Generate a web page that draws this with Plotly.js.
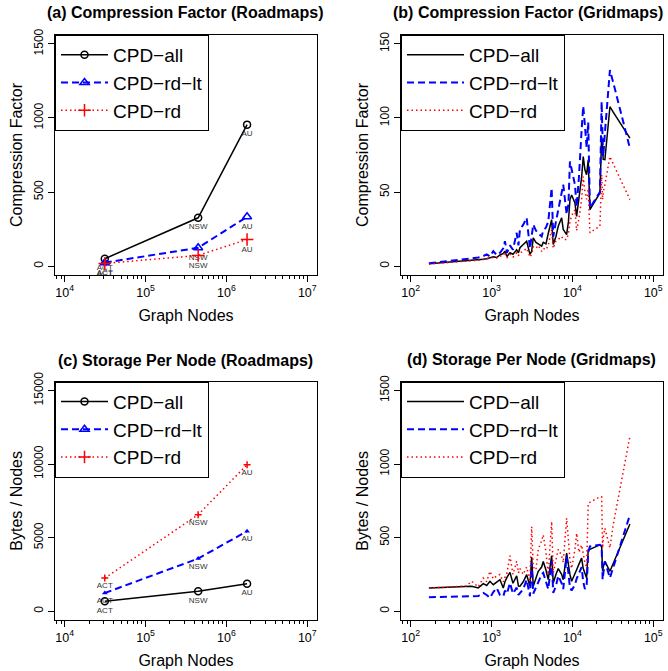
<!DOCTYPE html>
<html><head><meta charset="utf-8">
<script src="https://cdn.plot.ly/plotly-3.0.1.min.js"></script>
<style>html,body{margin:0;padding:0;background:#fff}#chart{width:668px;height:671px}</style>
</head><body><div id="chart"></div>
<script>
// ---------- Roadmaps ----------
const roadNames = ['ACT', 'NSW', 'AU'];
const roadNodes = [31300, 447000, 1800000];
const roadCompAll = [50, 326, 955];
const roadCompRdLt = [23, 124, 333];
const roadCompRd = [18, 72, 180];
const roadStoreAll = [674, 1349, 1866];
const roadStoreRdLt = [1236, 3575, 5440];
const roadStoreRd = [2247, 6562, 9955];

// ---------- Gridmaps ----------
const gridNodes = [168,306,492,568,685,790,870,955,1050,1156,1270,1395,1464,1550,1688,1839,2043,2150,2244,2465,2716,2983,3131,3278,3538,3778,4163,4356,4703,5022,5534,5790,6252,6676,7354,7697,8479,8925,9314,9775,10737,11269,12031,12994,13600,14272,14979,15679,16459,21875,22963,23624,24030,25210,29076,31936,51380];
const gridCompAll = [1.6,2.6,3.4,3.8,4.3,4.6,5.0,5.4,6.3,5.8,7.5,8.5,10.1,6.5,9,8,11,9,12.4,14.6,16.8,7.9,10,19.1,16,15,13.5,16,15,22,31.4,14.6,20,26.9,32.6,24.7,21.3,30,44.9,48,42.6,33.6,45,60,74,65,61.7,71.8,38.1,49.4,87.4,78,72,71.8,107.6,104,86.4];
const gridCompRdLt = [1.9,3.4,5.0,5.4,5.8,6.8,7.9,6.5,10.1,7.5,9,12,16.8,9,14,11,22.5,14,24.7,28,32.6,12,20,28,24,22,20,24,26,30,52.7,20,30,38,48.2,55,35,42,70.6,65,55,40,60,92,108,95,80,97,39.3,50,111,85,74,90,132.3,124,79.6];
const gridCompRd = [1.4,2.4,3.3,3.6,4.0,4.5,4.8,5.2,5.8,5.5,6.8,7,9.5,5.5,8,6,9,7,9,10,12,6,8,13,12,14,10,12,11,14,24.7,12,17,18,20,18,18,22,30,34,38,24,32,45,60.5,50,45,52,22.5,27,61.7,44.9,50,55,74,69,44.9];
const gridStoreAll = [158,163,168,169,158,187,175,203,180,195,214,158,200,230,264,190,240,170,169,200,248,170,368,169,220,271,300,338,280,214,377,192,250,290,250,214,395,300,250,203,250,282,320,361,290,250,226,417,420,451,444,271,300,338,271,324,593];
const gridStoreRdLt = [95,97,100,101,103,124,110,90,130,158,110,100,140,120,192,120,160,110,124,150,214,101,327,120,160,200,250,260,200,150,340,124,170,240,190,150,372,240,160,140,180,220,260,300,200,150,170,400,440,451,440,214,250,338,226,297,654];
const gridStoreRd = [158,163,172,203,165,226,200,271,220,240,250,200,230,260,377,250,340,260,290,250,300,200,575,300,280,420,480,519,400,250,609,260,350,420,380,330,632,450,350,290,420,530,400,450,380,330,300,733,740,778,778,429,500,564,430,587,1189];

const seriesNames = ['CPD\u2212all', 'CPD\u2212rd\u2212lt', 'CPD\u2212rd'];
const FONT = '"Liberation Sans", Arial, Helvetica, sans-serif';
const BLACK = '#000000', BLUE = '#0000FF', RED = '#FF0000';
const LBL = {size: 8, color: '#333333', family: FONT};

const lineAll = {color: BLACK, width: 1.5};
const lineRdLt = {color: BLUE, width: 2, dash: '7px,4px'};
const lineRd = {color: RED, width: 1.5, dash: '1.5px,3px'};
const mkAll = {symbol: 'circle-open', size: 7, color: BLACK, line: {width: 1.5, color: BLACK}};
const mkRdLt = {symbol: 'triangle-up-open', size: 8, color: BLUE, line: {width: 1.5, color: BLUE}};
const mkRd = {symbol: 'cross-thin-open', size: 9, color: RED, line: {width: 1.5, color: RED}};

const traces = [];
// (a)
[[roadCompAll, lineAll, mkAll], [roadCompRdLt, lineRdLt, mkRdLt], [roadCompRd, lineRd, mkRd]].forEach((s, i) => {
  traces.push({x: roadNodes, y: s[0], text: roadNames, name: seriesNames[i], type: 'scatter',
    mode: 'lines+markers+text', textposition: 'bottom center', textfont: LBL,
    line: s[1], marker: s[2], xaxis: 'x', yaxis: 'y', legend: 'legend'});
});
// (b)
[[gridCompAll, lineAll], [gridCompRdLt, lineRdLt], [gridCompRd, lineRd]].forEach((s, i) => {
  traces.push({x: gridNodes, y: s[0], name: seriesNames[i], type: 'scatter', mode: 'lines',
    line: s[1], xaxis: 'x2', yaxis: 'y2', legend: 'legend2'});
});
// (c)
const mkRdLtSmall = {symbol: 'triangle-up', size: 5, color: BLUE};
const mkRdSmall = {symbol: 'cross-thin-open', size: 5, color: RED, line: {width: 1.5, color: RED}};
[[roadStoreAll, lineAll, mkAll], [roadStoreRdLt, lineRdLt, mkRdLtSmall], [roadStoreRd, lineRd, mkRdSmall]].forEach((s, i) => {
  traces.push({x: roadNodes, y: s[0], text: roadNames, name: seriesNames[i], type: 'scatter',
    mode: 'lines+markers+text', textposition: 'bottom center', textfont: LBL,
    line: s[1], marker: s[2], xaxis: 'x3', yaxis: 'y3', showlegend: false});
});
[[lineAll, mkAll], [lineRdLt, mkRdLt], [lineRd, mkRd]].forEach((s, i) => {
  traces.push({x: [null], y: [null], name: seriesNames[i], type: 'scatter', mode: 'lines+markers',
    line: s[0], marker: s[1], xaxis: 'x3', yaxis: 'y3', legend: 'legend3'});
});
// (d)
[[gridStoreAll, lineAll], [gridStoreRdLt, lineRdLt], [gridStoreRd, lineRd]].forEach((s, i) => {
  traces.push({x: gridNodes, y: s[0], name: seriesNames[i], type: 'scatter', mode: 'lines',
    line: s[1], xaxis: 'x4', yaxis: 'y4', legend: 'legend4'});
});

const colA = [55/668, 317/668], colB = [401/668, 663/668];
const row1 = [1 - 275/671, 1 - 35/671], row2 = [1 - 620/671, 1 - 381.7/671];

function xax(domain, range, anchor) {
  return {domain, anchor, type: 'log', range, dtick: 1, exponentformat: 'power',
    tickfont: {size: 10, family: FONT, color: BLACK}, ticks: 'outside', ticklen: 6, tickcolor: BLACK,
    showline: true, mirror: true, linecolor: BLACK, linewidth: 1, showgrid: false, zeroline: false,
    minor: {dtick: 'D1', ticks: 'outside', ticklen: 3, tickcolor: BLACK, showgrid: false},
    title: {text: 'Graph Nodes', font: {size: 16, family: FONT, color: BLACK}, standoff: 11}};
}
function yax(domain, range, dtick, title, anchor) {
  return {domain, anchor, range, dtick, tick0: 0, tickformat: 'd', tickangle: -90,
    tickfont: {size: 12, family: FONT, color: BLACK}, ticks: 'outside', ticklen: 6, tickcolor: BLACK,
    showline: true, mirror: true, linecolor: BLACK, linewidth: 1, showgrid: false, zeroline: false,
    title: {text: title, font: {size: 16, family: FONT, color: BLACK}, standoff: 5}};
}
function leg(x, y, iw) {
  return {x, y, xanchor: 'left', yanchor: 'top', bgcolor: '#ffffff', bordercolor: BLACK, borderwidth: 1,
    font: {size: 19, family: FONT, color: BLACK}, itemwidth: iw, tracegroupgap: 0};
}
function ttl(text, x, y) {
  return {text: '<b>' + text + '</b>', x, y, xref: 'paper', yref: 'paper', showarrow: false,
    xanchor: 'center', yanchor: 'middle', font: {size: 16, family: FONT, color: BLACK}};
}

const layout = {
  width: 668, height: 671, margin: {l: 0, r: 0, t: 0, b: 0},
  paper_bgcolor: '#ffffff', plot_bgcolor: '#ffffff', font: {family: FONT, color: BLACK},
  showlegend: true,
  xaxis: xax(colA, [3.88, 7.12], 'y'), yaxis: yax(row1, [-60, 1560], 500, 'Compression Factor', 'x'),
  xaxis2: xax(colB, [1.88, 5.12], 'y2'), yaxis2: yax(row1, [-6, 156], 50, 'Compression Factor', 'x2'),
  xaxis3: xax(colA, [3.88, 7.12], 'y3'), yaxis3: yax(row2, [-600, 15600], 5000, 'Bytes / Nodes', 'x3'),
  xaxis4: xax(colB, [1.88, 5.12], 'y4'), yaxis4: yax(row2, [-60, 1560], 500, 'Bytes / Nodes', 'x4'),
  legend: leg(colA[0], row1[1], 47), legend2: leg(colB[0], row1[1], 57),
  legend3: leg(colA[0], row2[1], 47), legend4: leg(colB[0], row2[1], 57),
  annotations: [
    ttl('(a) Compression Factor (Roadmaps)', 185/668, 1 - 13/671),
    ttl('(b) Compression Factor (Gridmaps)', 528/668, 1 - 13/671),
    ttl('(c) Storage Per Node (Roadmaps)', 185/668, 1 - 360/671),
    ttl('(d) Storage Per Node (Gridmaps)', 531/668, 1 - 359/671)
  ]
};
Plotly.newPlot('chart', traces, layout, {staticPlot: true, displayModeBar: false});
</script></body></html>
